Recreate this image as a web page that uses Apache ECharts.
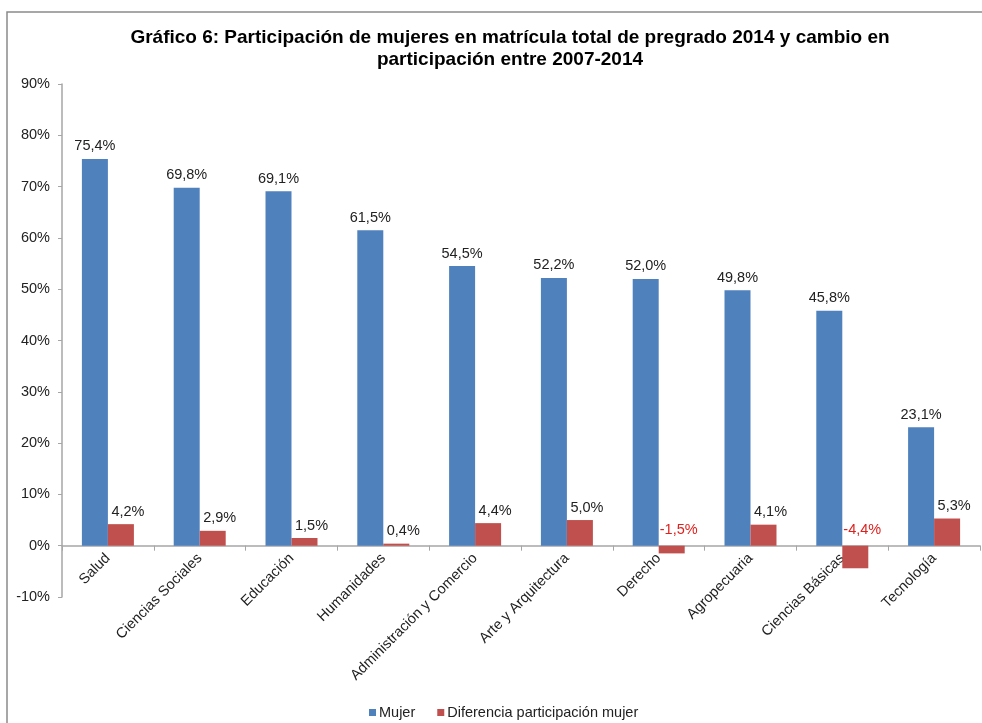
<!DOCTYPE html>
<html>
<head>
<meta charset="utf-8">
<script src="https://cdn.jsdelivr.net/npm/echarts@6/dist/echarts.min.js"></script>
<style>
  html, body { margin: 0; padding: 0; background: #fff; }
  #chart { width: 982px; height: 723px; }
</style>
</head>
<body>
<div id="chart"></div>
<script>
const categories = ["Salud", "Ciencias Sociales", "Educación", "Humanidades", "Administración y Comercio",
  "Arte y Arquitectura", "Derecho", "Agropecuaria", "Ciencias Básicas", "Tecnología"];
const mujer = [75.4, 69.8, 69.1, 61.5, 54.5, 52.2, 52.0, 49.8, 45.8, 23.1];
const diferencia = [4.2, 2.9, 1.5, 0.4, 4.4, 5.0, -1.5, 4.1, -4.4, 5.3];
const yTicks = [-10, 0, 10, 20, 30, 40, 50, 60, 70, 80, 90];

const fmt = v => v.toFixed(1).replace(".", ",") + "%";
const font = "Liberation Sans, Arial, sans-serif";
const fs = 14.5;

const chart = echarts.init(document.getElementById("chart"));
const option = {
  backgroundColor: "#fff",
  animation: false,
  textStyle: { fontFamily: font },
  graphic: [
    {
      // marco del gráfico
      type: "rect",
      shape: { x: 7, y: 12, width: 1000, height: 800 },
      style: { fill: "none", stroke: "#8a8a8a", lineWidth: 1.5 },
      silent: true
    }
  ],
  title: {
    text: "Gráfico 6: Participación de mujeres en matrícula total de pregrado 2014 y cambio en\nparticipación entre 2007-2014",
    left: 505,
    top: 22,
    textAlign: "center",
    textStyle: { fontFamily: font, fontSize: 19, fontWeight: "bold", color: "#000", lineHeight: 22 }
  },
  legend: {
    left: 364,
    top: 700,
    icon: "rect",
    itemWidth: 7,
    itemHeight: 7,
    itemGap: 22,
    textStyle: { fontFamily: font, fontSize: fs, color: "#222", padding: [0, 0, 0, -2] },
    data: ["Mujer", "Diferencia participación mujer"]
  },
  grid: { left: 62, right: 2, top: 84, bottom: 126, containLabel: false },
  xAxis: {
    type: "category",
    data: categories,
    axisLine: { onZero: true, lineStyle: { color: "#a6a6a6", width: 1.5 } },
    axisTick: { show: true, length: 5, alignWithLabel: false, lineStyle: { color: "#a6a6a6" } },
    axisLabel: { rotate: 45, interval: 0, margin: -41, fontFamily: font, fontSize: fs, color: "#222" }
  },
  yAxis: {
    type: "value",
    min: yTicks[0],
    max: yTicks[yTicks.length - 1],
    interval: 10,
    splitLine: { show: false },
    axisLine: { show: true, lineStyle: { color: "#a6a6a6", width: 1.5 } },
    axisTick: { show: true, length: 4, lineStyle: { color: "#a6a6a6" } },
    axisLabel: { formatter: v => v + "%", margin: 12, fontFamily: font, fontSize: fs, color: "#222" }
  },
  series: [
    {
      name: "Mujer",
      type: "bar",
      data: mujer,
      barWidth: 26,
      barGap: "0%",
      itemStyle: { color: "#4F81BD" },
      label: {
        show: true, position: "top", distance: 5,
        formatter: p => fmt(p.value),
        fontFamily: font, fontSize: fs, color: "#222"
      }
    },
    {
      name: "Diferencia participación mujer",
      type: "bar",
      data: diferencia.map(v => ({
        value: v,
        // negativos: etiqueta roja sobre la línea de cero
        label: v < 0 ? { color: "#e0201c", position: "insideTop", distance: -23 } : {}
      })),
      barWidth: 26,
      barGap: "0%",
      itemStyle: { color: "#C0504D" },
      label: {
        show: true, position: "top", distance: 5, offset: [7, 0],
        formatter: p => fmt(p.value),
        fontFamily: font, fontSize: fs, color: "#222"
      }
    }
  ]
};
chart.setOption(option);
</script>
</body>
</html>
